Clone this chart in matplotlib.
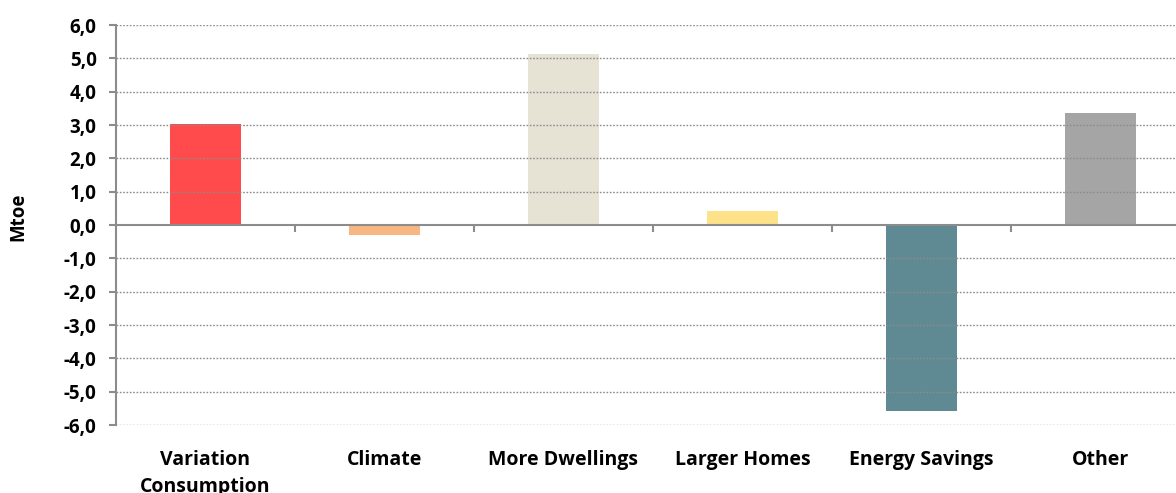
import matplotlib.pyplot as plt
import numpy as np

# data
categories = ["Variation\nConsumption", "Climate", "More Dwellings",
              "Larger Homes", "Energy Savings", "Other"]
values = [3.04, -0.31, 5.13, 0.43, -5.58, 3.37]
colors = ["#FF4B4B", "#F9B680", "#E6E2D4", "#FDE28A", "#5F8A93", "#A5A5A5"]
yticks = [-6, -5, -4, -3, -2, -1, 0, 1, 2, 3, 4, 5, 6]

plt.rcParams['font.family'] = ['Open Sans', 'DejaVu Sans']

fig = plt.figure(figsize=(11.76, 4.93), dpi=100)
ax = fig.add_axes([116/1176, 68/493, 1074/1176, 400/493])

x = np.arange(len(categories))
ax.bar(x, values, width=0.4, color=colors, zorder=1)

ax.set_xlim(-0.5, len(categories) - 0.5)
ax.set_ylim(-6, 6)
ax.set_yticks(yticks)
ax.set_yticklabels([("%.1f" % v).replace(".", ",") for v in yticks],
                   fontsize=13.5, fontweight='bold')

# dotted grid over the bars
for v in yticks:
    if v == 0:
        continue
    ax.axhline(v, color="#8C8C8C", lw=1, ls=(0, (1.2, 1.2)), zorder=2)

for s in ["top", "right"]:
    ax.spines[s].set_visible(False)
ax.spines["left"].set_color("#8C8C8C")
ax.spines["left"].set_linewidth(1.5)
ax.spines["bottom"].set_position(("data", 0))
ax.spines["bottom"].set_color("#8C8C8C")
ax.spines["bottom"].set_linewidth(1.5)
ax.spines["bottom"].set_zorder(3)

ax.tick_params(axis="y", direction="out", length=5, width=1.5, color="#8C8C8C", pad=9)
ax.set_xticks(x + 0.5, minor=False)
ax.set_xticklabels([])
ax.tick_params(axis="x", direction="out", length=5, width=1.5, color="#8C8C8C")

for i, c in enumerate(categories):
    ax.text(i, -0.062, c, transform=ax.get_xaxis_transform(), ha="center",
            va="top", fontsize=14, fontweight="bold", linespacing=1.5)

ax.set_ylabel("Mtoe", fontsize=13.5, fontweight="bold")
ax.yaxis.set_label_coords(-0.082, 0.52)

fig.savefig("out.png", dpi=100)
